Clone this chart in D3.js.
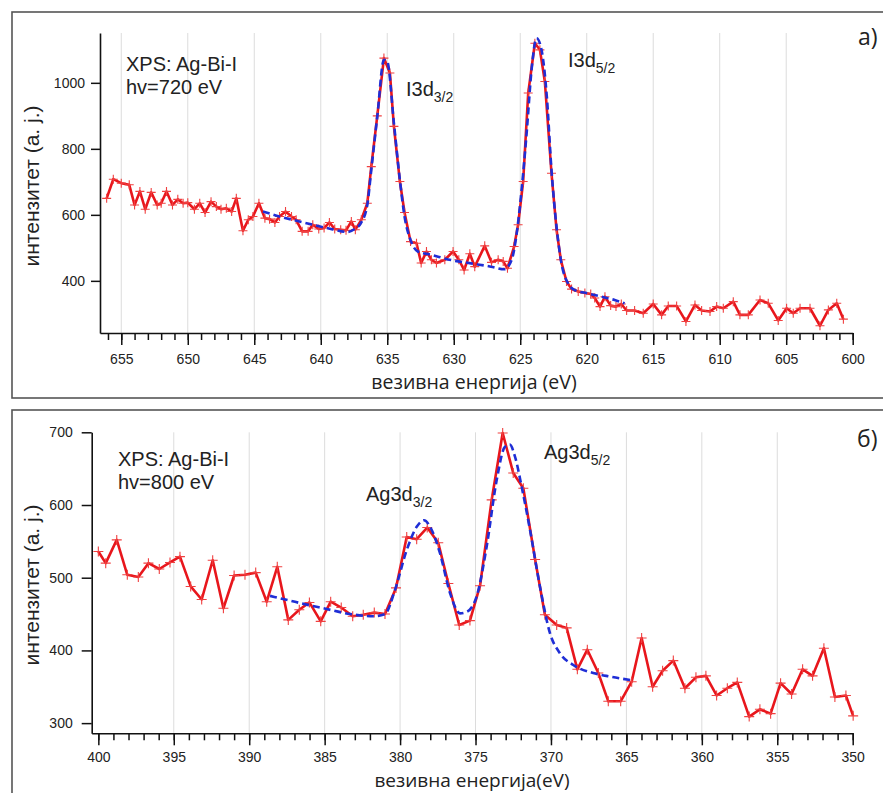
<!DOCTYPE html>
<html><head><meta charset="utf-8">
<script src="https://cdn.jsdelivr.net/npm/d3@7/dist/d3.min.js"></script>
<style>
html,body{margin:0;padding:0;background:#fff;}
svg{display:block;}
</style></head>
<body>
<script>
// ---------- DATA ----------
// Panel a) I3d
const topEnergy = [656.1,655.6,655.0,654.4,654.0,653.6,653.2,652.75,652.3,652.0,651.6,651.15,650.75,650.35,650.0,649.5,649.1,648.7,648.25,647.85,647.5,647.1,646.7,646.35,645.85,645.45,645.1,644.65,644.2,643.85,643.45,643.1,642.65,642.2,641.85,641.4,640.95,640.6,640.15,639.75,639.35,638.95,638.5,638.1,637.7,637.4,636.95,636.5,636.2,635.75,635.25,634.8,634.5,634.05,633.7,633.25,632.8,632.45,632.05,631.68,631.3,630.67,630.05,629.62,629.22,628.79,628.42,627.67,627.16,626.66,626.28,625.96,625.46,625.16,624.78,624.4,623.9,623.52,623.15,622.65,622.27,621.95,621.52,621.14,620.64,620.14,619.7,619.4,619.0,618.63,618.2,617.8,617.4,617.0,616.4,615.75,615.0,614.37,613.87,613.24,612.54,611.86,611.36,610.73,610.23,609.73,608.98,608.48,607.85,606.97,606.35,605.6,604.97,604.47,603.96,603.21,602.46,601.83,601.2,600.7];
const topIntensity = [650,708,696,691,630,671,617,668,630,635,671,630,647,635,637,617,635,607,640,625,617,620,610,650,552,585,595,635,590,587,577,595,610,595,585,550,550,570,557,560,577,557,555,553,580,555,585,635,746,900,1075,1030,868,701,607,519,514,454,489,464,454,464,489,464,433,482,443,506,456,464,459,438,504,570,701,969,1120,1100,1004,726,555,464,398,375,368,363,360,348,322,352,325,322,330,310,310,302,330,297,324,324,277,327,310,307,322,317,337,297,297,342,332,280,317,302,317,317,264,312,332,284];
const topFitEnergy = [644.35,643.1,641.6,640.6,639.1,638.0,637.45,636.95,636.5,636.2,635.75,635.25,635.0,634.5,634.05,633.7,633.25,632.7,631.7,630.2,628.7,627.2,626.2,625.65,625.3,624.9,624.5,624.15,623.77,623.4,623.0,622.65,622.27,621.9,621.4,620.9,619.9,618.9,617.9,617.15];
const topFitIntensity = [610,595,580,570,556,548,557,577,630,736,898,1070,1065,878,706,595,524,489,479,463,453,443,435,463,534,675,857,1039,1135,1100,958,736,564,453,392,372,362,352,342,332];
const topXTicks = [655,650,645,640,635,630,625,620,615,610,605,600];
const topYTicks = [400,600,800,1000];

// Panel б) Ag3d
const botEnergy = [400.0,399.51,398.78,398.08,397.35,396.68,395.96,395.25,394.59,393.88,393.15,392.42,391.71,391.0,390.28,389.57,388.84,388.14,387.41,386.68,386.01,385.26,384.6,383.9,383.14,382.44,381.71,381.0,380.27,379.56,378.9,378.2,377.47,376.8,376.08,375.37,374.7,373.93,373.2,372.5,371.83,371.05,370.4,369.62,368.96,368.25,367.59,366.86,366.2,365.38,364.65,363.99,363.26,362.6,361.89,361.12,360.39,359.73,359.02,358.31,357.65,356.86,356.15,355.44,354.78,354.05,353.32,352.66,351.91,351.18,350.45,349.97];
const botIntensity = [536,520,552,504,501,520,512,521,529,488,470,524,458,503,504,507,467,515,442,456,466,440,467,459,447,449,452,450,486,556,553,569,548,492,435,441,489,607,699,644,623,525,449,435,431,374,401,369,330,330,357,417,350,372,386,348,363,365,338,348,356,309,319,313,355,340,374,365,403,336,338,310];
const botFitEnergy = [388.62,387.4,386.19,385.09,383.3,381.77,381.0,380.34,379.56,378.9,378.42,377.91,377.36,376.69,376.03,375.59,374.93,374.26,373.6,373.05,372.72,372.39,371.94,371.39,370.73,370.07,369.4,368.52,367.2,366.09,364.65];
const botFitIntensity = [475,469,463,458,450,447,450,483,538,570,579,566,534,479,451,453,474,543,634,680,683,667,625,566,488,424,396,380,369,364,359];
const botXTicks = [400,395,390,385,380,375,370,365,360,355,350];
const botYTicks = [300,400,500,600,700];

// ---------- DRAW ----------
const W = 883, H = 793;
const svg = d3.select("body").append("svg").attr("width", W).attr("height", H);
const SANS = "'Liberation Sans', Arial, sans-serif";
const TITLE = "'Open Sans', sans-serif";
const RED = "#e8161c", BLUE = "#1f2ed6";

function panel(cfg) {
  const g = svg.append("g");
  // frame
  g.append("rect").attr("x", 12).attr("y", cfg.frameY).attr("width", 900).attr("height", cfg.frameH)
    .attr("fill", "none").attr("stroke", "#555").attr("stroke-width", 1.6);

  const x = d3.scaleLinear().domain(cfg.xDomain).range(cfg.xRange);
  const y = d3.scaleLinear().domain(cfg.yDomain).range(cfg.yRange);

  // grid
  g.append("g").selectAll("line").data(cfg.grid).join("line")
    .attr("x1", d => x(d)).attr("x2", d => x(d))
    .attr("y1", cfg.yRange[1]).attr("y2", cfg.yRange[0])
    .attr("stroke", "#dcdcdc").attr("stroke-width", 1);

  // minor x ticks
  const minor = d3.range(Math.ceil(cfg.xDomain[1]), Math.floor(cfg.xDomain[0]) + 1, 1);
  g.append("g").attr("transform", `translate(0,${cfg.yRange[0]})`)
    .call(d3.axisBottom(x).tickValues(minor).tickSize(7).tickSizeOuter(0).tickFormat(""))
    .call(s => s.select(".domain").remove())
    .call(s => s.selectAll(".tick line").attr("stroke", "#111").attr("stroke-width", 1.5));
  // major x ticks
  g.append("g").attr("transform", `translate(0,${cfg.yRange[0]})`)
    .call(d3.axisBottom(x).tickValues(cfg.xTicks).tickSize(12).tickSizeOuter(0).tickPadding(cfg.xPad).tickFormat(d3.format("d")))
    .call(s => s.select(".domain").attr("stroke", "#111").attr("stroke-width", 1.6))
    .call(s => s.selectAll(".tick line").attr("stroke", "#111").attr("stroke-width", 1.5))
    .call(s => s.selectAll("text").attr("font-family", SANS).attr("font-size", 14).attr("fill", "#222"));
  // y axis
  g.append("g").attr("transform", `translate(${cfg.xRange[0]},0)`)
    .call(d3.axisLeft(y).tickValues(cfg.yTicks).tickSize(cfg.yTickSize).tickSizeOuter(0).tickPadding(cfg.yPad).tickFormat(d3.format("d")))
    .call(s => s.select(".domain").attr("stroke", "#111").attr("stroke-width", 1.6))
    .call(s => s.selectAll(".tick line").attr("stroke", "#111").attr("stroke-width", 1.5))
    .call(s => s.selectAll("text").attr("font-family", SANS).attr("font-size", 14).attr("fill", "#222"));

  // data line
  const pts = cfg.energy.map((e, i) => [e, cfg.intensity[i]]);
  const line = d3.line().x(d => x(d[0])).y(d => y(d[1]));
  g.append("path").datum(pts).attr("d", line)
    .attr("fill", "none").attr("stroke", RED).attr("stroke-width", 2.6).attr("stroke-linejoin", "round");
  const m = cfg.mark;
  g.append("g").selectAll("path").data(pts).join("path")
    .attr("d", d => `M${x(d[0]) - m},${y(d[1])}H${x(d[0]) + m}M${x(d[0])},${y(d[1]) - m}V${y(d[1]) + m}`)
    .attr("stroke", "#f04040").attr("stroke-width", 1.1).attr("fill", "none");

  // fit
  const fpts = cfg.fitE.map((e, i) => [e, cfg.fitI[i]]);
  const fline = d3.line().x(d => x(d[0])).y(d => y(d[1])).curve(d3.curveMonotoneX);
  g.append("path").datum(fpts).attr("d", fline)
    .attr("fill", "none").attr("stroke", BLUE).attr("stroke-width", 2.6).attr("stroke-dasharray", "7,4");

  // titles
  g.append("text").attr("transform", `translate(${cfg.yTitleX},${cfg.yTitleY}) rotate(-90)`)
    .attr("text-anchor", "middle").attr("font-family", SANS).attr("font-size", 21).attr("fill", "#222")
    .text("интензитет (a. j.)");
  g.append("text").attr("x", cfg.xTitleX).attr("y", cfg.xTitleY).attr("text-anchor", "middle")
    .attr("font-family", TITLE).attr("font-size", cfg.xTitleSize).attr("fill", "#222").text(cfg.xTitle);

  // annotations
  g.append("text").attr("x", cfg.infoX).attr("y", cfg.infoY).attr("font-family", SANS).attr("font-size", 20).attr("fill", "#222").text("XPS: Ag-Bi-I");
  g.append("text").attr("x", cfg.infoX).attr("y", cfg.infoY + 23).attr("font-family", SANS).attr("font-size", 20).attr("fill", "#222").text(cfg.hv);

  cfg.peaks.forEach(p => {
    const t = g.append("text").attr("x", p.x).attr("y", p.y).attr("font-family", SANS).attr("font-size", 20).attr("fill", "#222");
    t.append("tspan").text(p.main);
    t.append("tspan").attr("font-size", 14).attr("dy", 6).text(p.sub);
  });

  g.append("text").attr("x", cfg.tagX).attr("y", cfg.tagY).attr("font-family", TITLE).attr("font-size", 23).attr("fill", "#222").text(cfg.tag);
}

panel({
  frameY: 12, frameH: 386,
  xDomain: [656.6, 600], xRange: [100, 852.7],
  yDomain: [242, 1151], yRange: [333, 33],
  grid: [655,650,645,640,635,630,625,620,615,610,605],
  xTicks: topXTicks, yTicks: topYTicks, xPad: 9, yTickSize: 9, yPad: 6,
  energy: topEnergy, intensity: topIntensity, fitE: topFitEnergy, fitI: topFitIntensity,
  mark: 4.5,
  yTitleX: 39, yTitleY: 186, xTitleX: 474, xTitleY: 389, xTitleSize: 19.5, xTitle: "везивна енергија (eV)",
  infoX: 126, infoY: 71, hv: "hv=720 eV",
  peaks: [{x: 406, y: 96, main: "I3d", sub: "3/2"}, {x: 568, y: 67, main: "I3d", sub: "5/2"}],
  tag: "a)", tagX: 858, tagY: 45
});

panel({
  frameY: 410, frameH: 420,
  xDomain: [400.44, 350], xRange: [91.7, 852.7],
  yDomain: [286, 700], yRange: [733.3, 432.3],
  grid: [395,390,385,380,375,370,365,360,355],
  xTicks: botXTicks, yTicks: botYTicks, xPad: 7, yTickSize: 10, yPad: 9,
  energy: botEnergy, intensity: botIntensity, fitE: botFitEnergy, fitI: botFitIntensity,
  mark: 5,
  yTitleX: 39, yTitleY: 585, xTitleX: 472, xTitleY: 787, xTitleSize: 19, xTitle: "везивна енергија(eV)",
  infoX: 118, infoY: 466, hv: "hv=800 eV",
  peaks: [{x: 366, y: 501, main: "Ag3d", sub: "3/2"}, {x: 544, y: 459, main: "Ag3d", sub: "5/2"}],
  tag: "б)", tagX: 857, tagY: 447
});
</script>
</body></html>
